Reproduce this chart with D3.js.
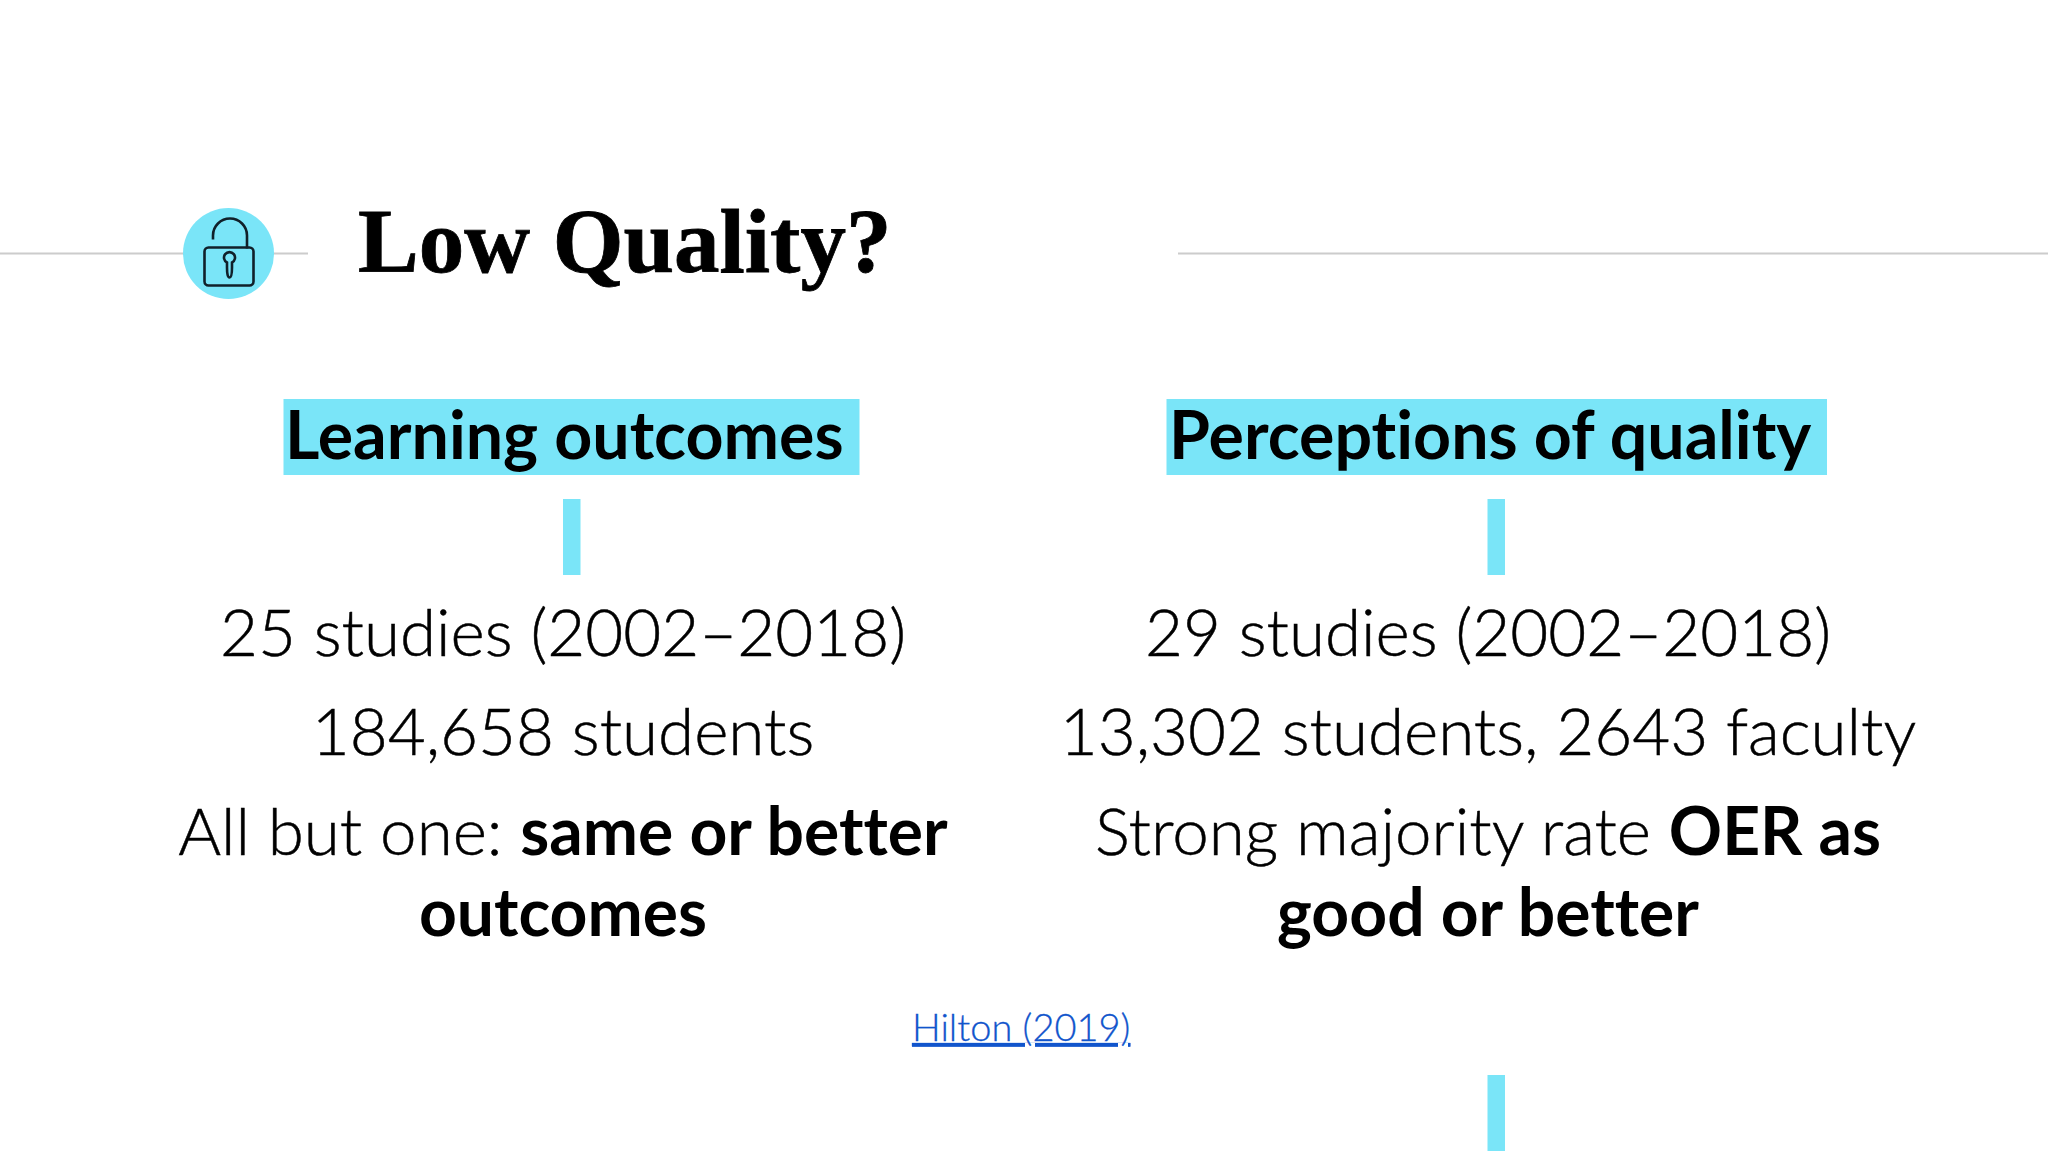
<!DOCTYPE html>
<html>
<head>
<meta charset="utf-8">
<style>
  html, body { margin: 0; padding: 0; background: #fff; }
  svg { display: block; }
  text { font-family: Lato, sans-serif; fill: #000; font-variant-ligatures: none; }
</style>
<script src="https://cdn.jsdelivr.net/npm/d3@7"></script>
</head>
<body>
<svg id="slide" width="2048" height="1152"></svg>
<script>
const title = "Low Quality?";
const headings = ["Learning outcomes", "Perceptions of quality"];
// each line is [light part, bold part]
const leftLines = [
  ["25 studies (2002–2018)", ""],
  ["184,658 students", ""],
  ["All but one: ", "same or better"],
  ["", "outcomes"]
];
const rightLines = [
  ["29 studies (2002–2018)", ""],
  ["13,302 students, 2643 faculty", ""],
  ["Strong majority rate ", "OER as"],
  ["", "good or better"]
];
const source = "Hilton (2019)";

const cyan = "#7ae5f8";
const svg = d3.select("#slide");

// rule behind the title
svg.selectAll("line.rule")
  .data([[0, 308], [1178, 2048]])
  .join("line")
  .attr("class", "rule")
  .attr("x1", d => d[0])
  .attr("x2", d => d[1])
  .attr("y1", 253.5)
  .attr("y2", 253.5)
  .attr("stroke", "#cccccc")
  .attr("stroke-width", 2);

// lock badge
const badge = svg.append("g").attr("transform", "translate(228.5,253.5)");
badge.append("circle").attr("r", 45.5).attr("fill", cyan);
const lock = badge.append("g")
  .attr("fill", "none")
  .attr("stroke", "#10202a")
  .attr("stroke-width", 2.6);
lock.append("path").attr("d", "M-15.5,-14 V-18 A17,17 0 0 1 18.5,-18 V-5");
lock.append("rect")
  .attr("x", -24).attr("y", -6)
  .attr("width", 49).attr("height", 38)
  .attr("rx", 4);
lock.append("path").attr("d", "M-1.5,14 V9 A5.5,5.5 0 1 1 3.5,9 V14 Q3.5,24 1,24 Q-1.5,24 -1.5,14 Z");

svg.append("text")
  .attr("x", 358)
  .attr("y", 272)
  .style("font-family", "'Liberation Serif', serif")
  .style("font-weight", 700)
  .style("font-size", "91px")
  .style("stroke", "#000")
  .style("stroke-width", 0.8)
  .text(title);

// heading highlights
svg.selectAll("rect.hl")
  .data([[283.5, 859.5], [1166.5, 1827]])
  .join("rect")
  .attr("class", "hl")
  .attr("x", d => d[0])
  .attr("width", d => d[1] - d[0])
  .attr("y", 399)
  .attr("height", 76)
  .attr("fill", cyan);

svg.selectAll("text.heading")
  .data(headings)
  .join("text")
  .attr("class", "heading")
  .attr("x", (d, i) => [285, 1169][i])
  .attr("y", 459)
  .style("font-weight", 700)
  .style("font-size", "66.3px")
  .text(d => d);

// connector ticks
svg.selectAll("rect.tick")
  .data([[563, 499], [1487.5, 499], [1487.5, 1075]])
  .join("rect")
  .attr("class", "tick")
  .attr("x", d => d[0])
  .attr("y", d => d[1])
  .attr("width", 17.5)
  .attr("height", 76)
  .attr("fill", cyan);

// body text columns
const baselines = [655.5, 754.5, 854.5, 936];
[[leftLines, 563], [rightLines, 1488]].forEach(([lines, cx]) => {
  const t = svg.append("g").selectAll("text")
    .data(lines)
    .join("text")
    .attr("x", cx)
    .attr("y", (d, i) => baselines[i])
    .attr("text-anchor", "middle");
  t.append("tspan")
    .style("font-weight", 300)
    .style("font-size", "65.5px")
    .style("stroke", "#000")
    .style("stroke-width", 0.5)
    .text(d => d[0]);
  t.append("tspan")
    .style("font-weight", 700)
    .style("font-size", "66px")
    .text(d => d[1]);
});

svg.append("text")
  .attr("x", 912)
  .attr("y", 1041)
  .style("font-size", "38px")
  .style("font-weight", 300)
  .style("fill", "#1155cc")
  .style("stroke", "#1155cc")
  .style("stroke-width", 0.3)
  .style("text-decoration", "underline")
  .style("text-decoration-skip-ink", "none")
  .text(source);
</script>
</body>
</html>
